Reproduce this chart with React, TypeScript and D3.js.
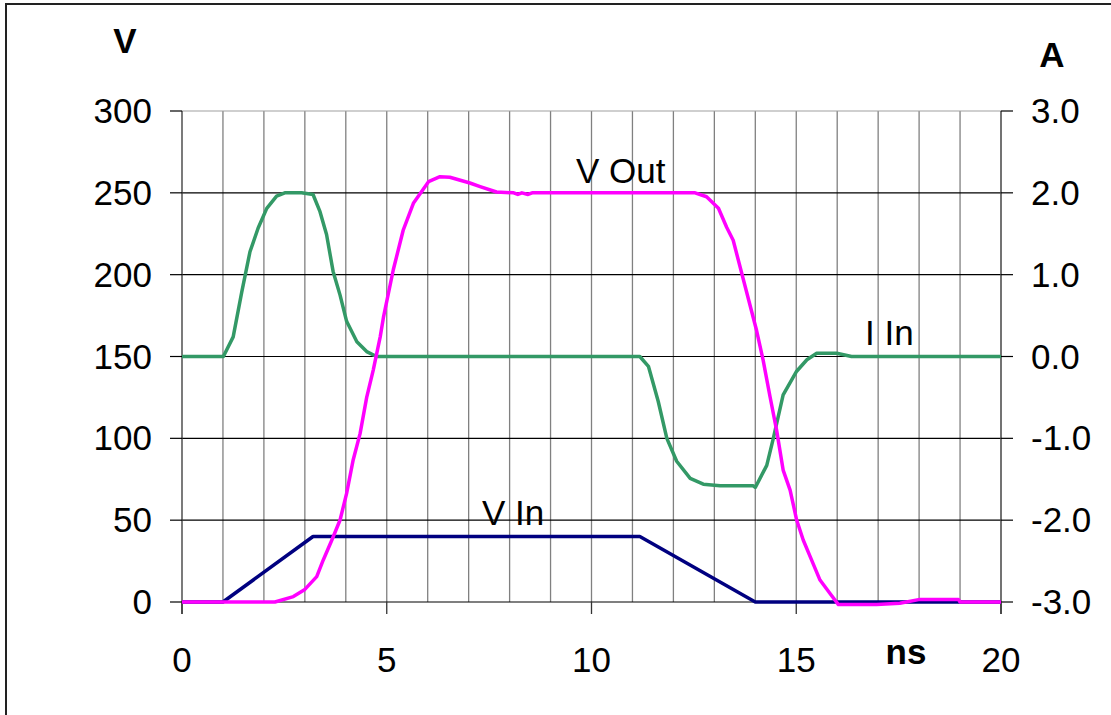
import React from "react";
import * as d3 from "d3";

// time axis (ns)
const xTicks = [0, 5, 10, 15, 20];
const gridTimes = d3.range(1, 20);
const vTicks = [0, 50, 100, 150, 200, 250, 300];
const aTicks = [-3, -2, -1, 0, 1, 2, 3];

// V In (navy), left axis
const vInT = [0, 1.0, 3.2, 11.18, 14.0, 20];
const vInV = [0, 0, 40, 40, 0, 0];

// I In (green), right axis
const iInT = [0, 1.01, 1.25, 1.46, 1.66, 1.86, 2.07, 2.31, 2.51, 2.92, 3.2, 3.37, 3.53, 3.69, 3.86, 4.02, 4.27, 4.51, 4.75,
  11.18, 11.39, 11.63, 11.84, 12.08, 12.41, 12.73, 13.14, 13.95, 14.0, 14.28, 14.44, 14.68, 15.01, 15.26, 15.5, 15.99, 16.35, 20];
const iInA = [0, 0, 0.24, 0.79, 1.28, 1.57, 1.81, 1.96, 2.0, 2.0, 1.98, 1.77, 1.49, 1.04, 0.75, 0.43, 0.18, 0.06, 0,
  0, -0.12, -0.55, -1.0, -1.28, -1.49, -1.56, -1.58, -1.58, -1.6, -1.33, -1.0, -0.47, -0.18, -0.04, 0.04, 0.04, 0.0, 0];

// V Out (magenta), left axis
const vOutT = [0, 2.27, 2.72, 3.0, 3.29, 3.45, 3.66, 3.86, 4.02, 4.18, 4.35, 4.51, 4.67, 4.84, 4.92, 5.16, 5.4, 5.65, 6.02, 6.3,
  6.54, 7.03, 7.28, 7.68, 8.1, 8.2, 8.3, 8.45, 8.55, 12.53, 12.81, 13.1, 13.3, 13.46, 14.03, 14.19, 14.36, 14.52, 14.68, 14.85,
  15.01, 15.17, 15.34, 15.58, 15.82, 16.03, 16.96, 17.53, 18.02, 18.96, 19.0, 20];
const vOutV = [0, 0, 3.3, 7.7, 15.5, 25.7, 37.9, 50.1, 66.4, 86.8, 103, 125, 141.7, 162, 174, 203, 227, 243.6, 256.8, 259.9,
  259.5, 256, 253.8, 250.5, 250, 249, 250, 249, 250, 250, 247.6, 240.6, 229, 221, 166, 147.9, 125.4, 105, 80.6, 68.4,
  50.1, 37.9, 27.7, 13.4, 5.3, -1.6, -1.6, -0.8, 1.6, 1.6, 0, 0];

const x = d3.scaleLinear().domain([0, 20]).range([182, 1001]);
const yV = d3.scaleLinear().domain([0, 300]).range([602, 111]);
const yA = d3.scaleLinear().domain([-3, 3]).range([602, 111]);

const font = "Arial, 'Liberation Sans', sans-serif";

// build a path from parallel time / value arrays
const mk = (ts: number[], vs: number[], y: d3.ScaleLinear<number, number>) =>
  d3.line<number>().x((t) => x(t)).y((_, i) => y(vs[i]))(ts) || "";

export default function App() {
  return (
    <svg width={1111} height={715} style={{ position: "absolute", left: 0, top: 0, background: "#fff" }}>
      <rect x={6} y={4} width={1200} height={800} fill="#fff" stroke="#222" strokeWidth={2} />

      {/* vertical grid */}
      {gridTimes.map((t) => (
        <line key={"vg" + t} x1={x(t)} x2={x(t)} y1={yV(300)} y2={yV(0)} stroke="#808080" strokeWidth={1.3} />
      ))}
      {/* horizontal grid */}
      {vTicks.map((v) => (
        <line key={"hg" + v} x1={x(0)} x2={x(20)} y1={yV(v)} y2={yV(v)} stroke={v === 300 ? "#a0a0a0" : "#000"} strokeWidth={1.2} />
      ))}
      {/* axes and ticks */}
      <line x1={x(0)} x2={x(0)} y1={yV(300)} y2={yV(0) + 12} stroke="#333" strokeWidth={1.3} />
      <line x1={x(20)} x2={x(20)} y1={yV(300)} y2={yV(0) + 12} stroke="#444" strokeWidth={1.5} />
      {vTicks.map((v) => (
        <line key={"lt" + v} x1={x(0) - 12} x2={x(0)} y1={yV(v)} y2={yV(v)} stroke="#000" strokeWidth={1.2} />
      ))}
      {aTicks.map((a) => (
        <line key={"rt" + a} x1={x(20)} x2={x(20) + 12} y1={yA(a)} y2={yA(a)} stroke="#000" strokeWidth={1.2} />
      ))}
      {xTicks.map((t) => (
        <line key={"bt" + t} x1={x(t)} x2={x(t)} y1={yV(0)} y2={yV(0) + 12} stroke="#333" strokeWidth={1.3} />
      ))}

      {/* tick labels */}
      <g fontFamily={font} fontSize={35} fill="#000">
        {vTicks.map((v) => (
          <text key={"vl" + v} x={152} y={yV(v) + 12} textAnchor="end">{v}</text>
        ))}
        {aTicks.map((a) => (
          <text key={"al" + a} x={1031} y={yA(a) + 12} textAnchor="start">{a.toFixed(1)}</text>
        ))}
        {xTicks.map((t) => (
          <text key={"xl" + t} x={x(t)} y={672} textAnchor="middle">{t}</text>
        ))}
        <text x={576} y={183}>V Out</text>
        <text x={482} y={525}>V In</text>
        <text x={865} y={345}>I In</text>
      </g>
      <g fontFamily={font} fontSize={35} fontWeight="bold" fill="#000" textAnchor="middle">
        <text x={125} y={53}>V</text>
        <text x={1052} y={67}>A</text>
        <text x={906} y={664}>ns</text>
      </g>

      {/* series */}
      <path d={mk(vInT, vInV, yV)} fill="none" stroke="#000080" strokeWidth={3.5} strokeLinejoin="round" />
      <path d={mk(iInT, iInA, yA)} fill="none" stroke="#339966" strokeWidth={3.5} strokeLinejoin="round" />
      <path d={mk(vOutT, vOutV, yV)} fill="none" stroke="#FF00FF" strokeWidth={3.5} strokeLinejoin="round" />
    </svg>
  );
}
